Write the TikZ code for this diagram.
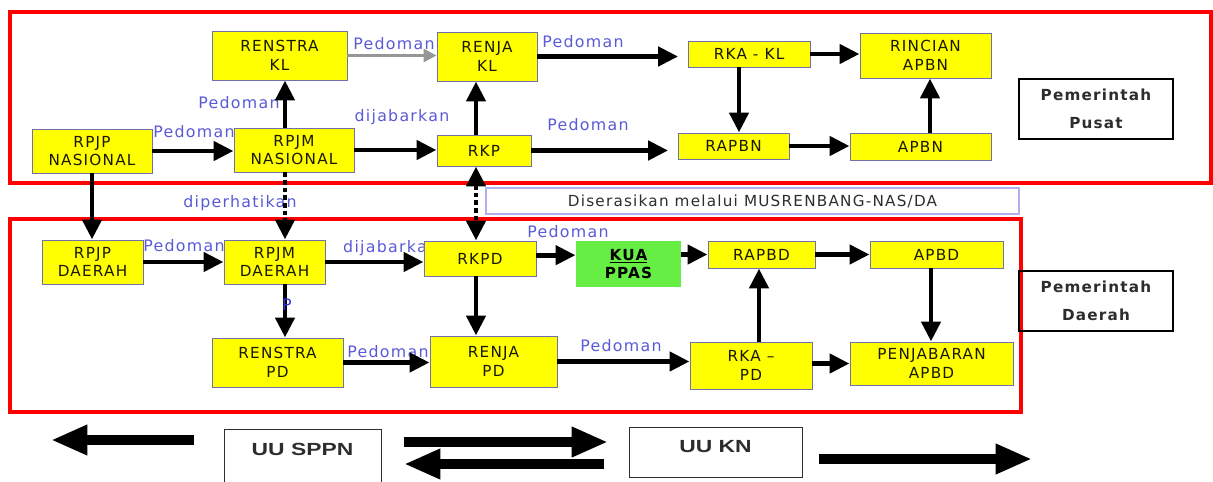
\documentclass[tikz,border=0pt]{standalone}
\usepackage{fontspec}
\setmainfont[LetterSpace=8]{DejaVu Sans}
\newfontfamily\uufont{Liberation Sans}
\usetikzlibrary{arrows.meta}

\definecolor{kuning}{RGB}{255,255,0}
\definecolor{hijau}{RGB}{102,238,68}
\definecolor{garis}{RGB}{112,112,176}
\definecolor{biru}{RGB}{90,90,215}
\definecolor{birutua}{RGB}{50,50,210}
\definecolor{merah}{RGB}{255,0,0}
\definecolor{ungu}{RGB}{176,176,240}
\definecolor{teks}{RGB}{25,25,5}
\definecolor{abu}{RGB}{150,150,150}
\definecolor{gelap}{RGB}{45,45,45}

\begin{document}
\begin{tikzpicture}[x=0.03cm, y=-0.03cm,
    kotak/.style={draw=garis, line width=0.8pt, fill=kuning, text=teks, align=center,
                  inner sep=0pt, font=\fontsize{13}{16}\selectfont},
    ket/.style={text=biru, inner sep=0pt, font=\fontsize{13.5}{15}\selectfont},
    pemda/.style={draw=black, line width=1.5pt, align=center, text=gelap,
                  minimum width=4.62cm, minimum height=1.8cm,
                  font=\fontsize{13}{24}\selectfont\bfseries},
    panah/.style={line width=4.2pt, -{Triangle[length=17pt,width=16pt]}},
    titik/.style={line width=4.2pt, dash pattern=on 4pt off 2.5pt},
    panahbesar/.style={line width=8.5pt, -{Triangle[length=31pt,width=24pt]}},
    uu/.style={draw=gelap, line width=0.8pt}]

    \useasboundingbox (0,0) rectangle (1213,482);

    % Frames
    \draw[merah, line width=3.4pt] (10,12) rectangle (1211,183);
    \draw[merah, line width=3.4pt] (10,219) rectangle (1021,412);

    % Pusat
    \node[kotak, minimum width=4.05cm, minimum height=1.47cm] (renstrakl) at (279.5,55.5) {RENSTRA\\KL};
    \node[kotak, minimum width=3.0cm, minimum height=1.47cm] (renjakl) at (487,56.5) {RENJA\\KL};
    \node[kotak, minimum width=3.66cm, minimum height=0.78cm] (rkakl) at (749,54) {RKA - KL};
    \node[kotak, minimum width=3.93cm, minimum height=1.35cm] (rincian) at (925.5,55.5) {RINCIAN\\APBN};
    \node[kotak, minimum width=3.6cm, minimum height=1.32cm] (rpjpnas) at (92,151) {RPJP\\NASIONAL};
    \node[kotak, minimum width=3.6cm, minimum height=1.32cm] (rpjmnas) at (294,150) {RPJM\\NASIONAL};
    \node[kotak, minimum width=2.82cm, minimum height=0.93cm] (rkp) at (484,150.5) {RKP};
    \node[kotak, minimum width=3.33cm, minimum height=0.78cm] (rapbn) at (733.5,146) {RAPBN};
    \node[kotak, minimum width=4.23cm, minimum height=0.81cm] (apbn) at (920.5,146.5) {APBN};
    \node[pemda] (pusat) at (1096,109) {Pemerintah\\Pusat};

    \node[draw=ungu, line width=1pt, text=gelap, minimum width=15.99cm, minimum height=0.78cm,
          font=\fontsize{13}{15}\selectfont] (serasi) at (752.5,201) {Diserasikan melalui MUSRENBANG-NAS/DA};

    % Daerah
    \node[ket, anchor=west] (jabar2) at (343,248) {dijabarkan};
    \node[kotak, minimum width=3.03cm, minimum height=1.32cm] (rpjpdae) at (92.5,262) {RPJP\\DAERAH};
    \node[kotak, minimum width=3.03cm, minimum height=1.32cm] (rpjmdae) at (274.5,262) {RPJM\\DAERAH};
    \node[kotak, minimum width=3.93cm, minimum height=1.47cm] (renstrapd) at (277.5,362.5) {RENSTRA\\PD};
    \node[kotak, minimum width=3.36cm, minimum height=1.05cm] (rkpd) at (480,258.5) {RKPD};
    \node[kotak, draw=none, fill=hijau, text=black, minimum width=3.15cm, minimum height=1.38cm,
          font=\fontsize{13}{16}\selectfont\bfseries] (kua) at (628.5,264) {\underline{KUA}\\PPAS};
    \node[kotak, minimum width=3.21cm, minimum height=0.81cm] (rapbd) at (761.5,254.5) {RAPBD};
    \node[kotak, minimum width=3.99cm, minimum height=0.81cm] (apbd) at (936.5,254.5) {APBD};
    \node[kotak, minimum width=3.81cm, minimum height=1.53cm] (renjapd) at (493.5,361.5) {RENJA\\PD};
    \node[kotak, minimum width=3.66cm, minimum height=1.41cm] (rkapd) at (751,365.5) {RKA --\\PD};
    \node[kotak, minimum width=4.89cm, minimum height=1.29cm] (penjab) at (931.5,363.5) {PENJABARAN\\APBD};
    \node[pemda] (daerah) at (1096,301) {Pemerintah\\Daerah};

    % Labels
    \foreach \x/\y [count=\i] in {394/44, 583/42, 588/125, 239/103, 194/132, 184/246, 388/352, 568/232, 621/346}
        \node[ket] (ped\i) at (\x,\y) {Pedoman};
    \node[ket] (jabar1) at (402,117) {dijabarkan};
    \node[ket] (perhati) at (240,203) {diperhatikan};

    % Connectors, Pusat
    \draw[abu, line width=2.5pt, -{Triangle[length=11pt,width=11pt]}] (renstrakl.east) -- (renstrakl.east -| renjakl.west);
    \draw[panah, shorten >=8pt] (renjakl.east) -- (renjakl.east -| rkakl.west);
    \draw[panah] (rkakl.east) -- (rkakl.east -| rincian.west);
    \draw[panah] (rpjpnas.east) -- (rpjpnas.east -| rpjmnas.west);
    \draw[panah] (rpjmnas.east) -- (rpjmnas.east -| rkp.west);
    \draw[panah, shorten >=8pt] (rkp.east) -- (rkp.east -| rapbn.west);
    \draw[panah] (rapbn.east) -- (rapbn.east -| apbn.west);

    \coordinate (v1) at ([xshift=-0.27cm]rpjmnas.north);
    \coordinate (v2) at ([xshift=-0.24cm]rkp.north);
    \coordinate (v3) at ([xshift=-0.3cm]rkakl.south);
    \coordinate (v4) at ([xshift=0.285cm]apbn.north);
    \draw[panah] (v1) -- (v1 |- renstrakl.south);
    \draw[panah] (v2) -- (v2 |- renjakl.south);
    \draw[panah] (v3) -- (v3 |- rapbn.north);
    \draw[panah] (v4) -- (v4 |- rincian.south);

    % Pusat to Daerah
    \coordinate (v5) at ([xshift=-0.27cm]rpjmnas.south);
    \coordinate (v6) at ([xshift=-0.24cm]rkp.south);
    \draw[panah] (rpjpnas.south) -- (rpjpnas.south |- rpjpdae.north);
    \draw[titik, -{Triangle[length=17pt,width=16pt]}] (v5) -- (v5 |- rpjmdae.north);
    \draw[titik, {Triangle[length=17pt,width=16pt]}-{Triangle[length=17pt,width=16pt]}] (v6) -- (v6 |- rkpd.north);

    % Connectors, Daerah
    \draw[panah] (rpjpdae.east) -- (rpjpdae.east -| rpjmdae.west);
    \draw[panah] (rpjmdae.east) -- (rpjmdae.east -| rkpd.west);
    \draw[panah] ([yshift=0.1cm]rkpd.east) -- ([yshift=0.1cm]rkpd.east -| kua.west);
    \draw[panah] (kua.east |- rapbd) -- (rapbd.west);
    \draw[panah] (rapbd.east) -- (rapbd.east -| apbd.west);
    \draw[panah] (renstrapd.east) -- (renstrapd.east -| renjapd.west);
    \draw[panah] (renjapd.east) -- (renjapd.east -| rkapd.west);
    \draw[panah] (rkapd.east |- penjab) -- (penjab.west);

    \coordinate (v7) at ([xshift=0.315cm]rpjmdae.south);
    \coordinate (v8) at ([xshift=-0.12cm]rkpd.south);
    \coordinate (v9) at ([xshift=0.24cm]rkapd.north);
    \coordinate (v10) at ([xshift=-0.165cm]apbd.south);
    \draw[panah] (v7) -- (v7 |- renstrapd.north);
    \draw[panah] (v8) -- (v8 |- renjapd.north);
    \draw[panah] (v9) -- (v9 |- rapbd.south);
    \draw[panah] (v10) -- (v10 |- penjab.north);
    \node[ket, text=birutua] (huruf) at (287,305) {P};

    % Undang-undang
    \node[uu, minimum width=4.71cm, minimum height=1.9cm, anchor=north,
          label={[anchor=north, yshift=-0.3cm, text=gelap]north:\scalebox{1.3}[1]{\uufont\bfseries\fontsize{15}{17}\selectfont UU SPPN}}]
          (sppn) at (302.5,429) {};
    \node[uu, minimum width=5.19cm, minimum height=1.5cm,
          label={[anchor=north, yshift=-0.3cm, text=gelap]north:\scalebox{1.3}[1]{\uufont\bfseries\fontsize{15}{17}\selectfont UU KN}}]
          (kn) at (715.5,452) {};

    \coordinate (a1) at (194,440);
    \coordinate (a2) at (51,440);
    \coordinate (b1) at (404,442);
    \coordinate (b2) at (608,442);
    \coordinate (c1) at (604,464);
    \coordinate (c2) at (404,464);
    \coordinate (d1) at (819,459);
    \coordinate (d2) at (1032,459);
    \draw[panahbesar] (a1) -- (a2);
    \draw[panahbesar] (b1) -- (b2);
    \draw[panahbesar] (c1) -- (c2);
    \draw[panahbesar] (d1) -- (d2);
\end{tikzpicture}
\end{document}
